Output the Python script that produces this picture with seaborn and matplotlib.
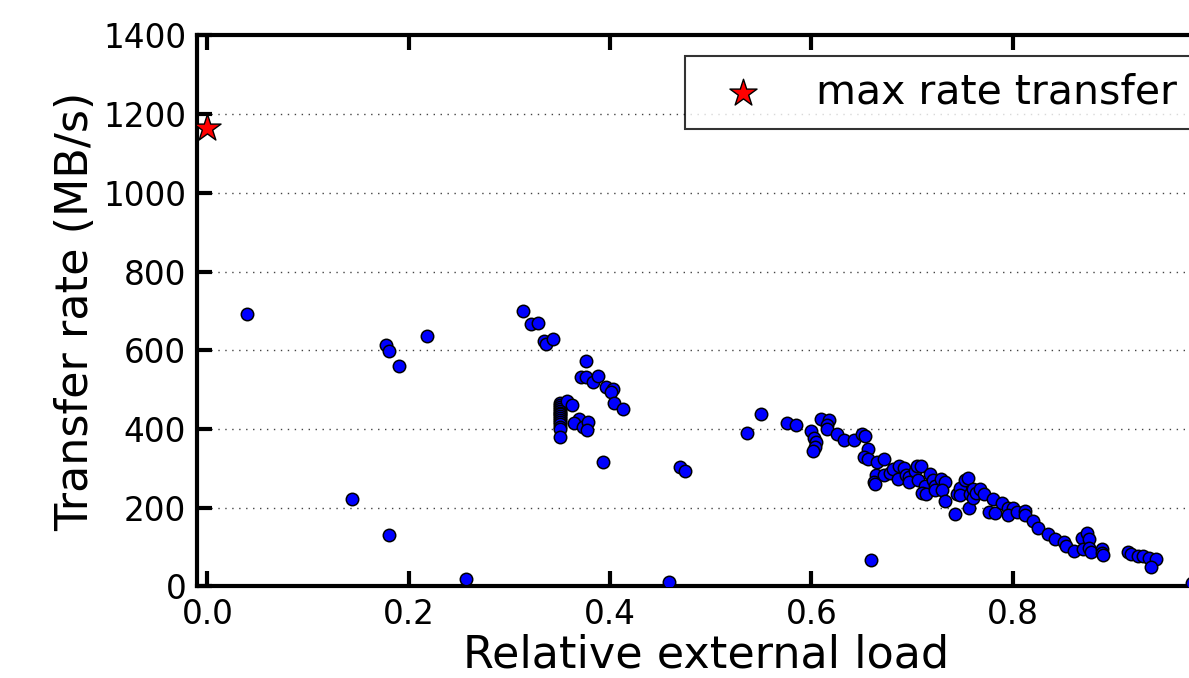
import numpy as np
import pandas as pd
import matplotlib
matplotlib.use("Agg")
import matplotlib.pyplot as plt
import seaborn as sns

# Measured transfers: relative external load vs. achieved transfer rate (MB/s)
load = [
    0.0397, 0.1775, 0.1808, 0.1907, 0.2179, 0.1434, 0.1801, 0.2566,
    0.3138, 0.3211, 0.3281, 0.3344, 0.3363, 0.3436,
    0.3761, 0.3711, 0.3761, 0.3830, 0.3880, 0.3963, 0.4026, 0.4012, 0.4036, 0.4128,
    0.3502, 0.3502, 0.3502, 0.3502, 0.3502, 0.3502, 0.3502, 0.3502, 0.3502,
    0.3502, 0.3502, 0.3502, 0.3502, 0.3502, 0.3502,
    0.3569, 0.3619, 0.3688, 0.3645, 0.3728, 0.3777, 0.3771, 0.3930,
    0.4694, 0.4747, 0.4585, 0.5356, 0.5495, 0.5760, 0.5846,
    0.5995, 0.6028, 0.6041, 0.6035, 0.6012, 0.6094, 0.6174, 0.6151, 0.6154,
    0.6250, 0.6326, 0.6422, 0.6498, 0.6528, 0.6561, 0.6525, 0.6564, 0.6650,
    0.6720, 0.6643, 0.6621, 0.6627, 0.6723, 0.6780, 0.6806, 0.6872, 0.6918,
    0.6862, 0.6935, 0.6968, 0.6965, 0.7025, 0.7048, 0.7090, 0.7058, 0.7127,
    0.7094, 0.7134, 0.7180, 0.7210, 0.7230, 0.7230, 0.7286, 0.7323, 0.7293,
    0.7323, 0.7425, 0.7442, 0.7475, 0.7478, 0.7524, 0.7557, 0.7564, 0.7574,
    0.7601, 0.7607, 0.7633, 0.7676, 0.7716, 0.7799, 0.7765, 0.7822, 0.7889,
    0.7948, 0.8004, 0.7954, 0.8044, 0.8117, 0.8120, 0.8203, 0.8252, 0.8352,
    0.8418, 0.8507, 0.8530, 0.8607, 0.8683, 0.8739, 0.8756, 0.8693, 0.8759,
    0.8773, 0.8882, 0.8888, 0.8892, 0.9146, 0.9173, 0.9245, 0.9289, 0.9351,
    0.9418, 0.9374, 0.6591, 0.9780,
]
rate = [
    692, 614, 599, 561, 637, 222, 132, 19,
    700, 666, 670, 624, 616, 629,
    573, 532, 532, 520, 534, 506, 502, 493, 466, 452,
    467, 462, 457, 452, 447, 442, 437, 432, 427,
    422, 417, 412, 406, 400, 381,
    472, 460, 426, 415, 406, 417, 397, 316,
    304, 294, 11, 389, 438, 416, 410,
    395, 377, 368, 355, 343, 425, 423, 410, 400,
    387, 372, 372, 387, 382, 349, 330, 323, 316,
    325, 283, 266, 260, 282, 288, 299, 306, 302,
    274, 283, 279, 266, 294, 306, 307, 271, 255,
    238, 235, 287, 271, 255, 245, 272, 265, 245,
    217, 183, 234, 250, 233, 271, 276, 200, 234,
    247, 226, 237, 247, 234, 222, 188, 187, 212,
    199, 200, 182, 189, 192, 182, 167, 148, 133,
    120, 114, 103, 91, 122, 135, 120, 95, 97,
    88, 95, 84, 80, 88, 82, 78, 78, 72,
    69, 50, 67, 8,
]

# Best observed transfer (no external load)
max_load = [0.0]
max_rate = [1166]

legend_label = "max rate transfer"
x_label = "Relative external load"
y_label = "Transfer rate (MB/s)"
x_ticks = [0.0, 0.2, 0.4, 0.6, 0.8]
y_ticks = [0, 200, 400, 600, 800, 1000, 1200, 1400]

df = pd.DataFrame({"load": load, "rate": rate})
df_max = pd.DataFrame({"load": max_load, "rate": max_rate})

sns.set_style("white")
plt.rcParams["font.family"] = ["DejaVu Sans"]
plt.rcParams["text.color"] = "black"
plt.rcParams["axes.labelcolor"] = "black"
plt.rcParams["xtick.color"] = "black"
plt.rcParams["ytick.color"] = "black"

fig = plt.figure(figsize=(11.89, 6.78), dpi=100)
ax = fig.add_axes([0.1659, 0.135, 0.8553, 0.8127])

sns.scatterplot(data=df, x="load", y="rate", ax=ax, color="#0000ff",
                edgecolor="black", linewidth=1.1, s=80, zorder=3)
sns.scatterplot(data=df_max, x="load", y="rate", ax=ax, color="red",
                marker="*", edgecolor="black", linewidth=1.0, s=420,
                label=legend_label, zorder=4)

ax.set_xlim(-0.01, 1.0)
ax.set_ylim(0, 1400)
ax.set_xticks(x_ticks)
ax.set_yticks(y_ticks)
ax.set_xticklabels([f"{t:.1f}" for t in x_ticks])
ax.set_yticklabels([str(t) for t in y_ticks])

ax.yaxis.grid(True, linestyle=(0, (1, 4)), color="#444444", linewidth=1.0)
ax.xaxis.grid(False)
ax.set_axisbelow(True)

for side in ["left", "right", "top", "bottom"]:
    ax.spines[side].set_visible(True)
    ax.spines[side].set_linewidth(3.0)
    ax.spines[side].set_color("black")

ax.tick_params(axis="both", which="major", direction="in", length=11,
               width=3.0, color="black", labelcolor="black", labelsize=23.5,
               pad=8, top=True, right=True, bottom=True, left=True)

ax.set_xlabel(x_label, fontsize=32, labelpad=2, color="black")
ax.set_ylabel(y_label, fontsize=32, labelpad=4, color="black")

leg = ax.legend(loc="upper right", scatterpoints=1, fontsize=29.5,
                frameon=True, fancybox=False, borderaxespad=0.5)
leg.get_frame().set_edgecolor("black")
leg.get_frame().set_linewidth(1.5)
for t in leg.get_texts():
    t.set_color("black")

fig.savefig("out.png", dpi=100)
